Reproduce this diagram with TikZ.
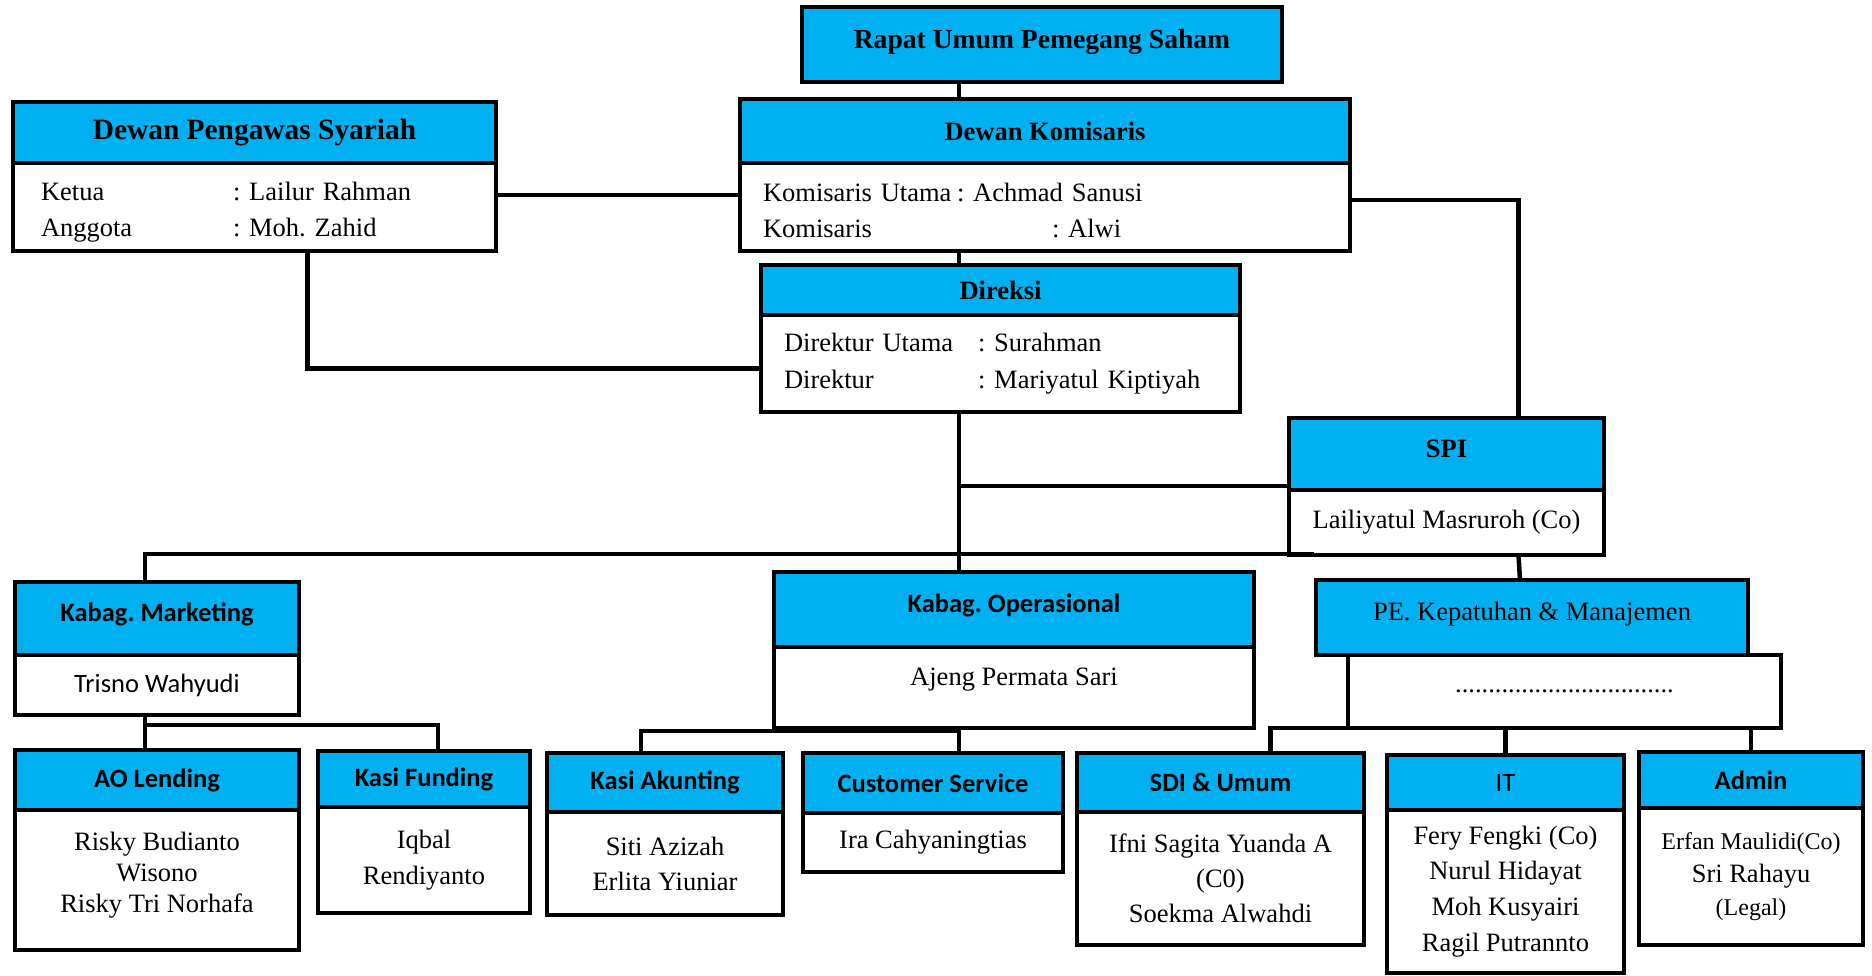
\documentclass[tikz,border=0pt]{standalone}
\usepackage{fontspec}
\setmainfont{Liberation Serif}
\newfontfamily\calibri{Carlito}
\usepackage{tikz}
\usetikzlibrary{positioning}
\definecolor{hdrblue}{HTML}{00B0F0}
\newcommand\bodysize{\fontsize{26.5}{36}\selectfont}

\begin{document}
\frenchspacing
\begin{tikzpicture}[x=1pt, y=-1pt,
  hdr/.style={draw, line width=4.5pt, fill=hdrblue, anchor=north west, inner sep=0pt, outer sep=0pt, align=center, font=\bodysize\bfseries},
  unithdr/.style={hdr, font=\bodysize\calibri\bfseries},
  unitbody/.style={draw, line width=4.5pt, fill=white, inner sep=0pt, outer sep=0pt, align=center, font=\bodysize},
  conn/.style={line width=4.5pt}]
  \useasboundingbox (0,0) rectangle (1872,976);
  \coordinate (trunk) at (959,0);
  \node[hdr, minimum width=480pt, minimum height=75pt, text depth=12pt, font=\fontsize{27.6}{36}\selectfont\bfseries] (rups) at (802,7) {Rapat Umum Pemegang Saham};
  \node[hdr, minimum width=483pt, minimum height=61pt, font=\fontsize{29.4}{36}\selectfont\bfseries] (dpsh) at (13,102) {Dewan Pengawas Syariah};
  \node[unitbody, below=0pt of dpsh, minimum width=483pt, minimum height=88pt, text width=427pt, inner xsep=28pt, align=left, text height=29pt] (dpsb) {\makebox[192pt][l]{Ketua}: Lailur Rahman\\\makebox[192pt][l]{Anggota}: Moh. Zahid};
  \node[hdr, minimum width=610pt, minimum height=64pt] (dkh) at (740,99) {Dewan Komisaris};
  \node[unitbody, below=0pt of dkh, minimum width=610pt, minimum height=88pt, text width=564pt, inner xsep=23pt, align=left, text height=26pt] (dkb) {\makebox[194pt][l]{Komisaris Utama}: Achmad Sanusi\\\makebox[289pt][l]{Komisaris}: Alwi};
  \node[hdr, minimum width=479pt, minimum height=50pt] (dirh) at (761,265) {Direksi};
  \node[unitbody, below=0pt of dirh, minimum width=479pt, minimum height=97pt, text width=433pt, inner xsep=23pt, align=left, font=\fontsize{26.5}{37}\selectfont] (dirb) {\makebox[194pt][l]{Direktur Utama}: Surahman\\\makebox[194pt][l]{Direktur}: Mariyatul Kiptiyah};
  \node[hdr, minimum width=315pt, minimum height=72pt, text depth=10pt] (spih) at (1289,418) {SPI};
  \node[unitbody, below=0pt of spih, minimum width=315pt, minimum height=65pt] (spib) {Lailiyatul Masruroh (Co)};
  \node[unithdr, minimum width=284pt, minimum height=73pt, text depth=12pt] (kmh) at (15,582) {Kabag. Marketing};
  \node[unitbody, below=0pt of kmh, minimum width=284pt, minimum height=60pt, font=\bodysize\calibri] (kmb) {Trisno Wahyudi};
  \node[unithdr, minimum width=480pt, minimum height=75pt, text depth=12pt] (koh) at (774,572) {Kabag. Operasional};
  \node[unitbody, below=0pt of koh, minimum width=480pt, minimum height=81pt, text depth=22pt] (kob) {Ajeng Permata Sari};
  \node[hdr, minimum width=432pt, minimum height=75pt, text depth=12pt, font=\bodysize] (peh) at (1316,580) {PE. Kepatuhan \& Manajemen};
  \node[unitbody, anchor=north west, minimum width=433pt, minimum height=73pt] (peb) at (1348,655) {.................................};
  \node[unithdr, minimum width=284pt, minimum height=60pt] (aoh) at (15,750) {AO Lending};
  \node[unitbody, below=0pt of aoh, minimum width=284pt, minimum height=140pt, font=\fontsize{26.5}{31}\selectfont, text depth=16pt] (aob) {Risky Budianto\\Wisono\\Risky Tri Norhafa};
  \node[unithdr, minimum width=212pt, minimum height=56pt] (kfh) at (318,751) {Kasi Funding};
  \node[unitbody, below=0pt of kfh, minimum width=212pt, minimum height=106pt] (kfb) {Iqbal\\Rendiyanto};
  \node[unithdr, minimum width=236pt, minimum height=59pt] (kah) at (547,753) {Kasi Akunting};
  \node[unitbody, below=0pt of kah, minimum width=236pt, minimum height=103pt, font=\fontsize{26.5}{35}\selectfont] (kab) {Siti Azizah\\Erlita Yiuniar};
  \node[unithdr, minimum width=260pt, minimum height=60pt] (csh) at (803,753) {Customer Service};
  \node[unitbody, below=0pt of csh, minimum width=260pt, minimum height=59pt] (csb) {Ira Cahyaningtias};
  \node[unithdr, minimum width=287pt, minimum height=59pt] (sdih) at (1077,753) {SDI \& Umum};
  \node[unitbody, below=0pt of sdih, minimum width=287pt, minimum height=133pt, font=\fontsize{26.5}{35}\selectfont] (sdib) {Ifni Sagita Yuanda A\\(C0)\\Soekma Alwahdi};
  \node[unithdr, minimum width=237pt, minimum height=55pt, font=\bodysize\calibri] (ith) at (1387,755) {IT};
  \node[unitbody, below=0pt of ith, minimum width=237pt, minimum height=163pt, font=\fontsize{26.5}{35.7}\selectfont] (itb) {Fery Fengki (Co)\\Nurul Hidayat\\Moh Kusyairi\\Ragil Putrannto};
  \node[unithdr, minimum width=224pt, minimum height=56pt] (admh) at (1639,752) {Admin};
  \node[unitbody, below=0pt of admh, minimum width=224pt, minimum height=137pt, font=\fontsize{26.5}{33}\selectfont] (admb) {{\fontsize{24}{33}\selectfont Erfan Maulidi(Co)}\\Sri Rahayu\\{\fontsize{24}{33}\selectfont (Legal)}};
  \coordinate (spij) at (959,486);
  \coordinate (mkt) at (1314,554);
  \coordinate (mktj) at (145,725);
  \coordinate (opsj) at (959,731);
  \draw[conn] (rups.south -| trunk) -- (dkh.north -| trunk);
  \draw[conn] ([yshift=12pt]dpsb.east) -- ([yshift=12pt]dkb.west);
  \draw[conn] (dkb.south -| trunk) -- (dirh.north -| trunk);
  \draw[conn] ([xshift=53pt]dpsb.south) |- ([yshift=-5pt]dirb.west);
  \draw[conn] ([yshift=7pt]dkb.east) -| ([xshift=72pt]spih.north);
  \draw[conn] (dirb.south -| trunk) -- (koh.north -| trunk);
  \draw[conn] (spij) -- (spij -| spih.west);
  \draw[conn] ([xshift=-12pt]kmh.north) |- (mkt);
  \draw[conn] ([xshift=72pt]spib.south) -- ([xshift=-12pt]peh.north);
  \draw[conn] ([xshift=-12pt]kmb.south) -- ([xshift=-12pt]aoh.north);
  \draw[conn] (mktj) -| ([xshift=14pt]kfh.north);
  \draw[conn] (kob.south -| trunk) -- (csh.north -| trunk);
  \draw[conn] (opsj) -| ([xshift=-24pt]kah.north);
  \draw[conn] ([xshift=50pt]sdih.north) |- (peb.south -| admh.north) -- (admh.north);
  \draw[conn] (ith.north) -- (ith.north |- peb.south);
\end{tikzpicture}
\end{document}
